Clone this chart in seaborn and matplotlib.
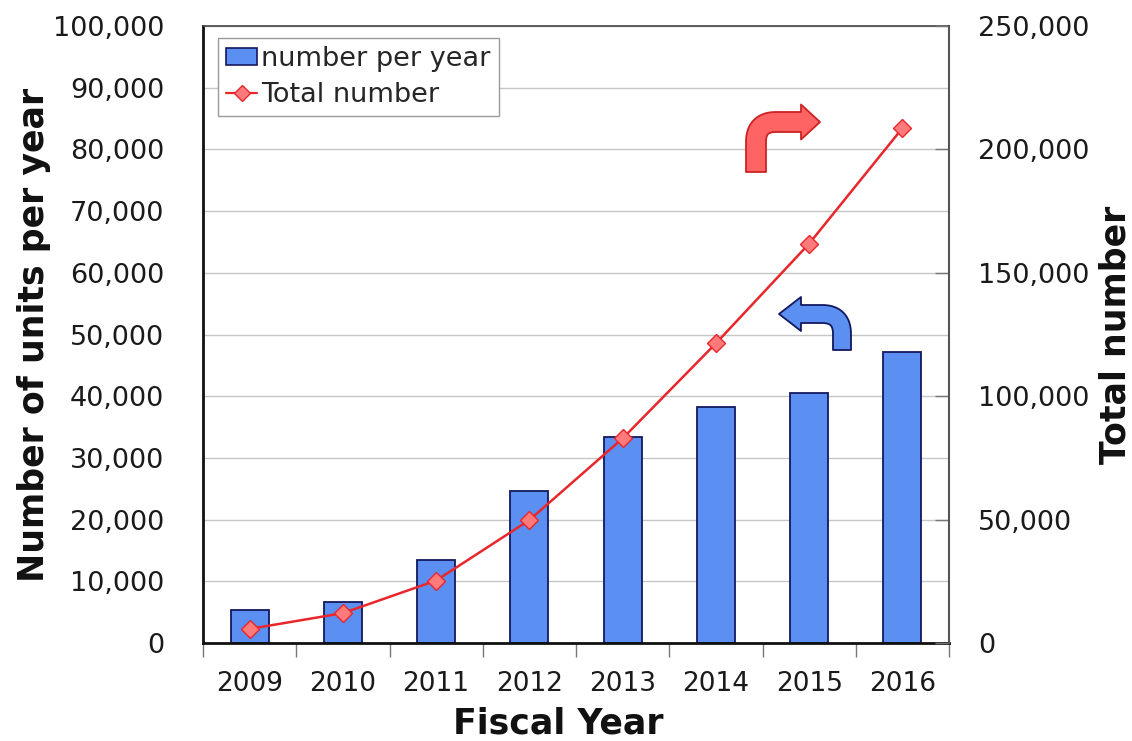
import numpy as np
import seaborn as sns
import matplotlib.pyplot as plt
import pandas as pd
from matplotlib.patches import Patch, Polygon
from matplotlib.lines import Line2D
from matplotlib.ticker import FuncFormatter, MultipleLocator

sns.set_theme(style="white")
plt.rcParams['font.family'] = ['DejaVu Sans']

# Values
years = ["2009", "2010", "2011", "2012", "2013", "2014", "2015", "2016"]
per_year = [5300, 6600, 13400, 24600, 33400, 38200, 40500, 47100]
total = [5700, 12100, 25300, 49800, 82900, 121400, 161800, 208600]

df = pd.DataFrame({"year": years, "per_year": per_year, "total": total})

bar_blue = "#5b8ff2"
bar_edge = "#14185e"
line_red = "#e8262c"
marker_fill = "#ff7b7b"

W, H = 1132, 741
fig = plt.figure(figsize=(W / 100, H / 100), dpi=100)
ax = fig.add_axes([203 / W, 1 - 643 / H, (949 - 203) / W, (643 - 26) / H])

# Bars: number per year (left axis)
sns.barplot(data=df, x="year", y="per_year", color=bar_blue, edgecolor=bar_edge,
            linewidth=1.3, width=0.41, saturation=1, ax=ax)
for p in ax.patches:
    p.set_facecolor(bar_blue)

ax.set_ylim(0, 100000)
ax.set_xlim(-0.5, len(years) - 0.5)
ax.yaxis.set_major_locator(MultipleLocator(10000))
ax.yaxis.set_major_formatter(FuncFormatter(lambda v, _: f"{int(v):,}"))
ax.grid(axis="y", color="#c6c6c6", linewidth=1)
ax.set_axisbelow(True)
ax.set_xticks(range(len(years)))
ax.set_xticklabels(years)
ax.set_xticks([i - 0.5 for i in range(len(years) + 1)], minor=True)
ax.tick_params(axis="x", which="major", bottom=True, length=0, labelsize=19,
               pad=20, colors="#1a1a1a")
ax.tick_params(axis="x", which="minor", bottom=True, length=10, width=1,
               color="#777777", direction="out")
ax.tick_params(axis="y", length=0, labelsize=19.5, pad=28, colors="#1a1a1a")
ax.set_xlabel("Fiscal Year", fontsize=25, fontweight="bold", color="#111111")
ax.xaxis.set_label_coords((558 - 203) / 746, -(706 - 643) / 617)
ax.set_ylabel("Number of units per year", fontsize=25, fontweight="bold",
              color="#111111")
ax.yaxis.set_label_coords(-(203 - 51) / 746, 0.5)
for side in ["left", "bottom"]:
    ax.spines[side].set_color("#111111")
    ax.spines[side].set_linewidth(2)
ax.spines["top"].set_color("#444444")
ax.spines["top"].set_linewidth(1.2)
ax.spines["right"].set_visible(False)

# Line: total number (right axis)
ax2 = ax.twinx()
sns.pointplot(data=df, x="year", y="total", color=line_red, markers="D",
              linestyles="-", markersize=9, linewidth=1.8,
              markeredgecolor=line_red, markerfacecolor=marker_fill,
              markeredgewidth=1, ax=ax2)
ax2.set_ylim(0, 250000)
ax2.set_xlim(-0.5, len(years) - 0.5)
ax2.yaxis.set_major_locator(MultipleLocator(50000))
ax2.yaxis.set_major_formatter(FuncFormatter(lambda v, _: f"{int(v):,}"))
ax2.tick_params(axis="y", right=True, direction="in", length=10, width=1,
                labelsize=19.5, pad=21, colors="#1a1a1a")
ax2.tick_params(axis="y", color="#777777")
ax2.set_xlabel("")
ax2.set_ylabel("Total number", fontsize=25, fontweight="bold", color="#111111")
ax2.yaxis.set_label_coords((1099 - 203) / 746, 0.5)
ax2.grid(False)
for side in ["left", "bottom", "top"]:
    ax2.spines[side].set_visible(False)
ax2.spines["right"].set_color("#555555")
ax2.spines["right"].set_linewidth(1.5)

# Legend
handles = [
    Patch(facecolor=bar_blue, edgecolor=bar_edge, linewidth=1.2, label="number per year"),
    Line2D([], [], color=line_red, marker="D", markersize=8, markerfacecolor=marker_fill,
           markeredgecolor=line_red, linewidth=1.6, label="Total number"),
]
leg = ax.legend(handles=handles, loc="upper left",
                bbox_to_anchor=((218 - 203) / 746, (643 - 38) / 617),
                fontsize=19.5, frameon=True, fancybox=False, edgecolor="#9a9a9a",
                framealpha=1, handlelength=1.15, handleheight=0.55, handletextpad=0.15,
                borderpad=0.3, labelspacing=0.35, borderaxespad=0)
leg.get_frame().set_linewidth(1)


def bent_arrow(tail, corner, tip, w, head_w, head_len, r, fc, ec):
    # L-shaped arrow with a rounded bend, built in figure pixels
    tail, corner, tip = (np.asarray(p, float) for p in (tail, corner, tip))
    u = (corner - tail) / np.linalg.norm(corner - tail)
    v = (tip - corner) / np.linalg.norm(tip - corner)
    a0, a1 = corner - r * u, corner + r * v
    t = np.linspace(0, 1, 24)[:, None]
    arc = (1 - t) ** 2 * a0 + 2 * (1 - t) * t * corner + t ** 2 * a1
    base = tip - head_len * v
    centre = np.vstack([tail, arc, base])
    tang = np.gradient(centre, axis=0)
    tang /= np.linalg.norm(tang, axis=1)[:, None]
    norm = np.column_stack([-tang[:, 1], tang[:, 0]])
    nv = np.array([-v[1], v[0]])
    left = centre + norm * w / 2
    right = centre - norm * w / 2
    pts = np.vstack([left, base + nv * head_w / 2, tip, base - nv * head_w / 2,
                     right[::-1]])
    pts = pts / np.array([W, H])
    fig.patches.append(Polygon(pts, closed=True, transform=fig.transFigure,
                               facecolor=fc, edgecolor=ec, linewidth=1.3,
                               joinstyle="round", zorder=5))


bent_arrow((756, H - 172), (756, H - 122), (820, H - 122), 20, 35, 19, 20,
           "#ff6464", "#cc2222")
bent_arrow((842, H - 350), (842, H - 314), (779, H - 314), 18, 34, 22, 20,
           "#5b8ff2", "#14185e")

fig.savefig("out.png", dpi=100)
